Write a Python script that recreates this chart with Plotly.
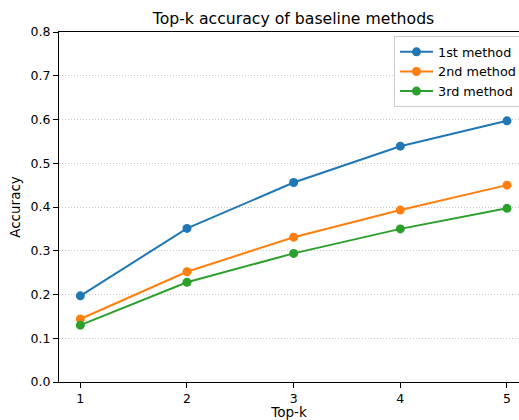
import plotly.graph_objects as go

topk = [1, 2, 3, 4, 5]
method1 = [0.197, 0.351, 0.456, 0.539, 0.597]
method2 = [0.144, 0.252, 0.331, 0.393, 0.450]
method3 = [0.130, 0.228, 0.294, 0.350, 0.397]
names = ["1st method", "2nd method", "3rd method"]
colors = ["#1f77b4", "#ff7f0e", "#2ca02c"]
yticks = [0.0, 0.1, 0.2, 0.3, 0.4, 0.5, 0.6, 0.7, 0.8]

fig = go.Figure()
for vals, name, c in zip([method1, method2, method3], names, colors):
    fig.add_trace(go.Scatter(x=topk, y=vals, name=name, mode="lines+markers",
                             line=dict(color=c, width=2),
                             marker=dict(color=c, size=9)))

font = "DejaVu Sans"
fig.update_layout(
    width=519, height=420,
    margin=dict(l=59, r=0, t=32, b=38, autoexpand=False),
    paper_bgcolor="white", plot_bgcolor="white",
    font=dict(family=font, size=12.5, color="black"),
    title=dict(text="Top-k accuracy of baseline methods", xref="container",
               x=293.5 / 519, xanchor="center", yref="container",
               y=1 - 19 / 420, yanchor="middle", font=dict(size=15.7, family=font)),
    showlegend=True,
    legend=dict(xref="container", yref="container", x=394 / 519, y=1 - 36 / 420,
                xanchor="left", yanchor="top", itemwidth=33, tracegroupgap=0,
                bgcolor="rgba(255,255,255,0.8)", bordercolor="#cccccc", borderwidth=1,
                font=dict(size=12.8, family=font)),
)
fig.update_xaxes(range=[0.8, 1 + (519 - 81) / 106.5], tickvals=topk,
                 ticks="outside", ticklen=5, tickcolor="black", automargin=False,
                 showline=True, linecolor="black", linewidth=1, mirror=True,
                 showgrid=False, zeroline=False,
                 title=dict(text="Top-k", standoff=10, font=dict(size=13.5)))
fig.update_yaxes(range=[0, 0.8], tickvals=yticks,
                 ticktext=[f"{v:.1f}" for v in yticks], automargin=False,
                 ticks="outside", ticklen=5, tickcolor="black",
                 showline=True, linecolor="black", linewidth=1, mirror=False,
                 showgrid=True, gridcolor="#c8c8c8", griddash="1px,2px", gridwidth=1,
                 zeroline=False,
                 title=dict(text="Accuracy", standoff=6, font=dict(size=13.5)))
fig.write_html("out.html", post_script="document.body.style.margin='0';",
               config={"displayModeBar": False})
